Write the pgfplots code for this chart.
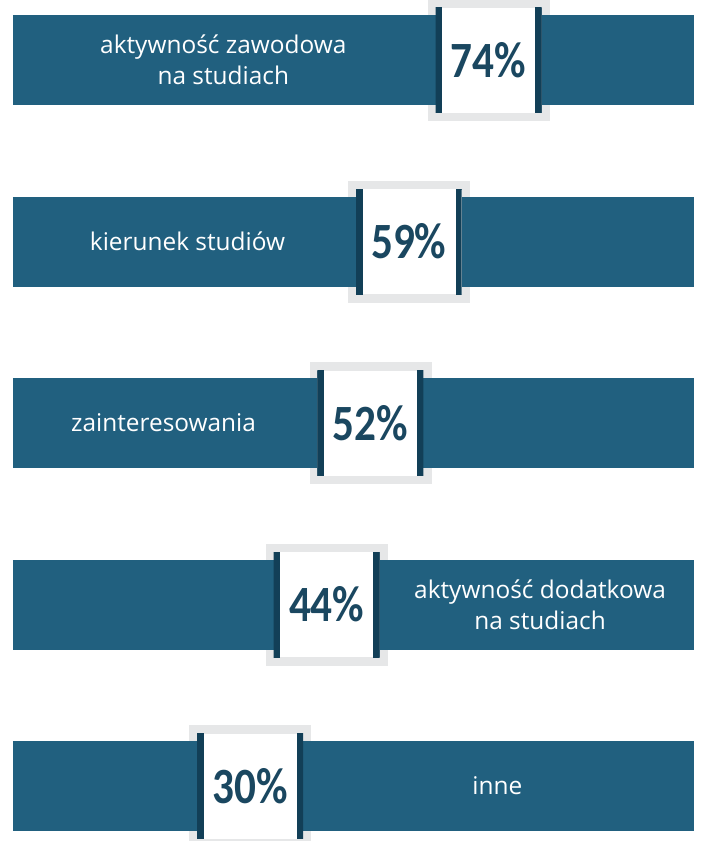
\documentclass[border=0pt]{standalone}
\usepackage{fontspec}
\setmainfont{Open Sans}
\newfontfamily\pctfont[FakeStretch=0.85]{Carlito}
\usepackage{pgfplots}
\pgfplotsset{compat=1.18}

\definecolor{barcol}{HTML}{21607F}
\definecolor{darkline}{HTML}{123F57}
\definecolor{pctcol}{HTML}{1A4760}
\definecolor{boxgrey}{HTML}{E6E7E8}

\tikzset{
  pctbox/.style={
    fill=white, draw=none, inner sep=0pt,
    minimum width=106bp, minimum height=105bp,
    text=pctcol, font=\pctfont\bfseries\fontsize{51}{51}\selectfont,
    path picture={
      \fill[darkline] (path picture bounding box.south west) rectangle ([xshift=6bp]path picture bounding box.north west);
      \fill[darkline] ([xshift=-6bp]path picture bounding box.south east) rectangle (path picture bounding box.north east);
    }
  },
  lbl/.style={text=white, align=center, font=\fontsize{24.5}{31}\selectfont, anchor=center}
}

\begin{document}
\begin{tikzpicture}
\begin{axis}[
    name=ax,
    width=702bp, height=841bp, scale only axis,
    xmin=-15.72, xmax=112.61,
    ymin=-0.3306, ymax=4.303, y dir=reverse,
    axis lines=none, xtick=\empty, ytick=\empty,
    clip=false, clip marker paths=true,
]
% grey frames behind the bars
\addplot[boxgrey, only marks, mark=square*, mark size=60.5bp,
    mark options={draw=none, fill=boxgrey}]
    coordinates {(73.6,0) (59,1) (52,2) (44,3) (30,4)};
% full-width tracks
\addplot[barcol, line width=90bp] coordinates {(-13.35,0) (111.15,0)};
\addplot[barcol, line width=90bp] coordinates {(-13.35,1) (111.15,1)};
\addplot[barcol, line width=90bp] coordinates {(-13.35,2) (111.15,2)};
\addplot[barcol, line width=90bp] coordinates {(-13.35,3) (111.15,3)};
\addplot[barcol, line width=90bp] coordinates {(-13.35,4) (111.15,4)};
% percentage boxes
\addplot[only marks, mark=none, point meta=explicit symbolic,
    nodes near coords,
    every node near coord/.style={pctbox, anchor=center}]
    coordinates {(73.6,0) [74\%] (59,1) [59\%] (52,2) [52\%] (44,3) [44\%] (30,4) [30\%]};
% labels
\node[lbl] at (axis cs:25.1,0) {aktywność zawodowa\\na studiach};
\node[lbl] at (axis cs:18.56,1) {kierunek studiów};
\node[lbl] at (axis cs:14.17,2) {zainteresowania};
\node[lbl] at (axis cs:83.0,3) {aktywność dodatkowa\\na studiach};
\node[lbl] at (axis cs:75.2,4) {inne};
\end{axis}
\pgfresetboundingbox
\useasboundingbox (ax.south west) rectangle (ax.north east);
\end{tikzpicture}
\end{document}
